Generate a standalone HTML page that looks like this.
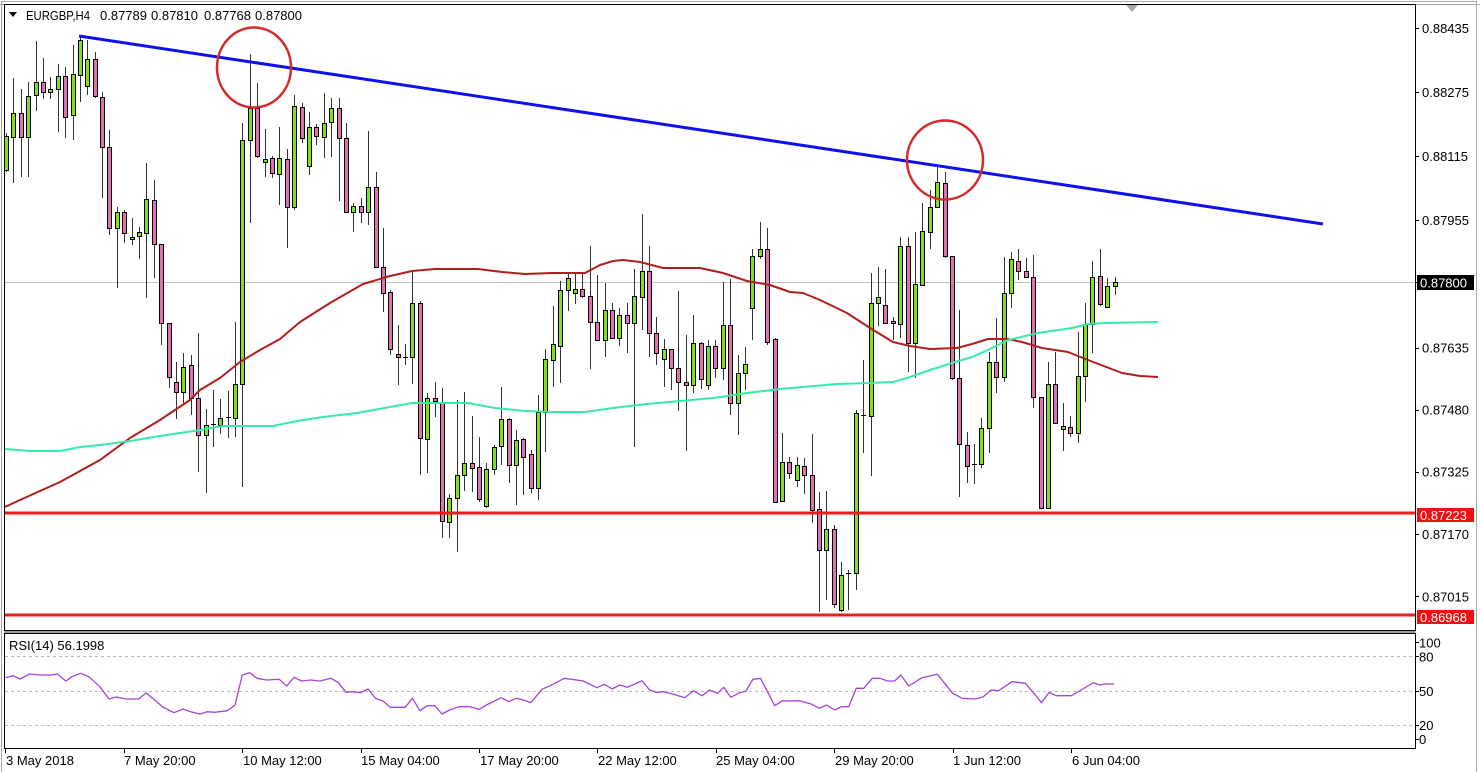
<!DOCTYPE html>
<html><head><meta charset="utf-8"><style>
html,body{margin:0;padding:0;background:#fff;}
svg{display:block;}
text{font-family:"Liberation Sans",sans-serif;font-size:13px;fill:#000;}
.g{fill:#80E01C;stroke:#000;stroke-width:1;}
.p{fill:#E46FB0;stroke:#000;stroke-width:1;}
</style></head><body>
<svg width="1480" height="772" viewBox="0 0 1480 772" xmlns="http://www.w3.org/2000/svg">
<defs><clipPath id="mc"><rect x="5" y="5" width="1410" height="625"/></clipPath></defs>
<rect x="0" y="0" width="1480" height="772" fill="#fff"/>
<path d="M1.5 772V1.5H1476.5V772" fill="none" stroke="#A8A8A8" stroke-width="1"/>
<path d="M0 4.5H1480" stroke="#A8A8A8" stroke-width="1"/>
<path d="M4.5 4.5H1415.5V630.5H4.5Z" fill="none" stroke="#000" stroke-width="1"/>
<rect x="4" y="631" width="1412" height="2" fill="#A0A0A0"/>
<path d="M4.5 633.5H1415.5V748.5H4.5Z" fill="none" stroke="#000" stroke-width="1"/>

<g clip-path="url(#mc)">
<path d="M5 282.5H1415" stroke="#C0C0C0" stroke-width="1"/>
<path stroke="#333" stroke-width="1" fill="none" d="M6.5 133V172 M13.5 78V183 M21.5 89V177 M28.5 82V177 M36.5 41V111 M43.5 58V99 M50.5 77V99 M58.5 64V132 M65.5 67V138 M73.5 45V140 M80.5 35V102 M87.5 40V95 M95.5 52V98 M102.5 92V198 M109.5 130V235 M117.5 207V288 M124.5 210V243 M132.5 218V245 M139.5 227V259 M146.5 163V298 M154.5 180V278 M161.5 244V345 M169.5 323V388 M176.5 362V419 M183.5 353V403 M191.5 355V415 M198.5 333V472 M206.5 409V493 M213.5 390V447 M220.5 399V434 M228.5 391V438 M235.5 322V437 M242.5 123V487 M250.5 54V223 M257.5 83V158 M265.5 129V177 M272.5 156V178 M279.5 127V205 M287.5 149V248 M294.5 95V210 M302.5 103V143 M309.5 112V175 M316.5 124V145 M324.5 93V158 M331.5 98V157 M339.5 98V201 M346.5 123V213 M353.5 203V232 M361.5 198V223 M368.5 131V225 M376.5 172V268 M383.5 228V312 M390.5 290V355 M398.5 325V385 M405.5 344V365 M412.5 272V384 M420.5 301V475 M427.5 393V473 M435.5 382V417 M442.5 388V538 M449.5 494V538 M457.5 400V552 M464.5 392V491 M472.5 416V492 M479.5 437V502 M486.5 463V508 M494.5 445V475 M501.5 387V465 M509.5 418V483 M516.5 430V505 M523.5 438V495 M531.5 450V493 M538.5 395V500 M545.5 349V452 M553.5 306V387 M560.5 281V383 M568.5 273V311 M575.5 273V304 M582.5 273V298 M590.5 246V369 M597.5 275V340 M605.5 283V357 M612.5 303V338 M619.5 308V346 M627.5 303V353 M634.5 269V447 M642.5 214V330 M649.5 246V357 M656.5 317V365 M664.5 339V387 M671.5 349V390 M678.5 291V411 M686.5 335V451 M693.5 315V393 M701.5 342V389 M708.5 340V390 M715.5 340V378 M723.5 282V380 M730.5 279V415 M738.5 355V435 M745.5 347V390 M752.5 249V340 M760.5 222V259 M767.5 228V345 M775.5 338V503 M782.5 433V502 M789.5 457V479 M797.5 457V487 M804.5 458V494 M812.5 434V523 M819.5 492V612 M826.5 491V600 M834.5 525V608 M841.5 562V612 M848.5 570V610 M856.5 410V590 M863.5 360V453 M871.5 273V476 M878.5 267V326 M885.5 269V323 M893.5 317V340 M900.5 237V338 M908.5 237V372 M915.5 232V378 M922.5 203V286 M930.5 190V249 M937.5 167V207 M945.5 172V258 M952.5 256V380 M959.5 310V497 M967.5 432V483 M974.5 444V484 M981.5 418V468 M989.5 352V453 M996.5 318V393 M1004.5 257V382 M1011.5 252V308 M1018.5 249V280 M1026.5 258V277 M1033.5 255V408 M1041.5 397V508 M1048.5 362V508 M1055.5 352V424 M1063.5 403V451 M1070.5 416V437 M1078.5 332V443 M1085.5 303V402 M1092.5 261V353 M1100.5 249V306 M1107.5 278V307 M1115.5 277V295"/>
<path stroke="#000" stroke-width="1" d="M211 424.5H216 M226 417.5H231 M403 357.5H408 M846 573.5H851 M861 415.5H866 M972 464.5H977"/>
<g class="g">
<rect x="4.5" y="136.5" width="4" height="34"/>
<rect x="11.5" y="113.5" width="4" height="24"/>
<rect x="26.5" y="96.5" width="4" height="41"/>
<rect x="34.5" y="82.5" width="4" height="13"/>
<rect x="48.5" y="89.5" width="4" height="3"/>
<rect x="56.5" y="76.5" width="4" height="13"/>
<rect x="71.5" y="74.5" width="4" height="41"/>
<rect x="78.5" y="40.5" width="4" height="35"/>
<rect x="85.5" y="59.5" width="4" height="27"/>
<rect x="115.5" y="212.5" width="4" height="16"/>
<rect x="130.5" y="237.5" width="4" height="2"/>
<rect x="137.5" y="232.5" width="4" height="4"/>
<rect x="144.5" y="199.5" width="4" height="34"/>
<rect x="181.5" y="367.5" width="4" height="25"/>
<rect x="204.5" y="425.5" width="4" height="10"/>
<rect x="218.5" y="418.5" width="4" height="7"/>
<rect x="233.5" y="384.5" width="4" height="34"/>
<rect x="240.5" y="140.5" width="4" height="244"/>
<rect x="248.5" y="108.5" width="4" height="32"/>
<rect x="263.5" y="159.5" width="4" height="3"/>
<rect x="277.5" y="158.5" width="4" height="16"/>
<rect x="292.5" y="106.5" width="4" height="101"/>
<rect x="307.5" y="127.5" width="4" height="39"/>
<rect x="322.5" y="123.5" width="4" height="14"/>
<rect x="329.5" y="108.5" width="4" height="14"/>
<rect x="351.5" y="206.5" width="4" height="6"/>
<rect x="366.5" y="187.5" width="4" height="25"/>
<rect x="410.5" y="303.5" width="4" height="54"/>
<rect x="425.5" y="398.5" width="4" height="41"/>
<rect x="447.5" y="498.5" width="4" height="24"/>
<rect x="455.5" y="475.5" width="4" height="23"/>
<rect x="462.5" y="463.5" width="4" height="12"/>
<rect x="484.5" y="469.5" width="4" height="37"/>
<rect x="492.5" y="447.5" width="4" height="22"/>
<rect x="499.5" y="419.5" width="4" height="27"/>
<rect x="514.5" y="440.5" width="4" height="25"/>
<rect x="536.5" y="412.5" width="4" height="76"/>
<rect x="543.5" y="359.5" width="4" height="53"/>
<rect x="551.5" y="344.5" width="4" height="16"/>
<rect x="558.5" y="290.5" width="4" height="56"/>
<rect x="566.5" y="278.5" width="4" height="12"/>
<rect x="573.5" y="289.5" width="4" height="4"/>
<rect x="603.5" y="310.5" width="4" height="30"/>
<rect x="617.5" y="315.5" width="4" height="23"/>
<rect x="632.5" y="296.5" width="4" height="27"/>
<rect x="640.5" y="271.5" width="4" height="26"/>
<rect x="662.5" y="349.5" width="4" height="10"/>
<rect x="691.5" y="343.5" width="4" height="42"/>
<rect x="706.5" y="346.5" width="4" height="39"/>
<rect x="721.5" y="325.5" width="4" height="43"/>
<rect x="736.5" y="373.5" width="4" height="30"/>
<rect x="743.5" y="364.5" width="4" height="9"/>
<rect x="750.5" y="256.5" width="4" height="52"/>
<rect x="758.5" y="249.5" width="4" height="7"/>
<rect x="780.5" y="462.5" width="4" height="39"/>
<rect x="795.5" y="465.5" width="4" height="15"/>
<rect x="824.5" y="529.5" width="4" height="21"/>
<rect x="839.5" y="575.5" width="4" height="35"/>
<rect x="854.5" y="413.5" width="4" height="160"/>
<rect x="869.5" y="303.5" width="4" height="113"/>
<rect x="876.5" y="297.5" width="4" height="6"/>
<rect x="898.5" y="246.5" width="4" height="78"/>
<rect x="913.5" y="284.5" width="4" height="59"/>
<rect x="920.5" y="231.5" width="4" height="54"/>
<rect x="928.5" y="207.5" width="4" height="25"/>
<rect x="935.5" y="182.5" width="4" height="25"/>
<rect x="979.5" y="428.5" width="4" height="36"/>
<rect x="987.5" y="362.5" width="4" height="66"/>
<rect x="1002.5" y="293.5" width="4" height="84"/>
<rect x="1009.5" y="259.5" width="4" height="34"/>
<rect x="1046.5" y="384.5" width="4" height="124"/>
<rect x="1061.5" y="426.5" width="4" height="3"/>
<rect x="1076.5" y="376.5" width="4" height="57"/>
<rect x="1083.5" y="324.5" width="4" height="52"/>
<rect x="1090.5" y="277.5" width="4" height="47"/>
<rect x="1105.5" y="286.5" width="4" height="21"/>
<rect x="1113.5" y="282.5" width="4" height="4"/>
</g>
<g class="p">
<rect x="19.5" y="113.5" width="4" height="24"/>
<rect x="41.5" y="82.5" width="4" height="10"/>
<rect x="63.5" y="76.5" width="4" height="41"/>
<rect x="93.5" y="59.5" width="4" height="37"/>
<rect x="100.5" y="97.5" width="4" height="50"/>
<rect x="107.5" y="147.5" width="4" height="81"/>
<rect x="122.5" y="212.5" width="4" height="21"/>
<rect x="152.5" y="200.5" width="4" height="44"/>
<rect x="159.5" y="244.5" width="4" height="79"/>
<rect x="167.5" y="323.5" width="4" height="54"/>
<rect x="174.5" y="382.5" width="4" height="10"/>
<rect x="189.5" y="365.5" width="4" height="33"/>
<rect x="196.5" y="398.5" width="4" height="37"/>
<rect x="255.5" y="108.5" width="4" height="48"/>
<rect x="270.5" y="158.5" width="4" height="15"/>
<rect x="285.5" y="159.5" width="4" height="48"/>
<rect x="300.5" y="107.5" width="4" height="31"/>
<rect x="314.5" y="127.5" width="4" height="9"/>
<rect x="337.5" y="108.5" width="4" height="30"/>
<rect x="344.5" y="138.5" width="4" height="74"/>
<rect x="359.5" y="206.5" width="4" height="6"/>
<rect x="374.5" y="187.5" width="4" height="80"/>
<rect x="381.5" y="267.5" width="4" height="26"/>
<rect x="388.5" y="292.5" width="4" height="57"/>
<rect x="396.5" y="354.5" width="4" height="3"/>
<rect x="418.5" y="303.5" width="4" height="135"/>
<rect x="433.5" y="398.5" width="4" height="3"/>
<rect x="440.5" y="402.5" width="4" height="119"/>
<rect x="470.5" y="463.5" width="4" height="5"/>
<rect x="477.5" y="467.5" width="4" height="32"/>
<rect x="507.5" y="419.5" width="4" height="46"/>
<rect x="521.5" y="439.5" width="4" height="18"/>
<rect x="529.5" y="454.5" width="4" height="34"/>
<rect x="580.5" y="289.5" width="4" height="7"/>
<rect x="588.5" y="296.5" width="4" height="26"/>
<rect x="595.5" y="322.5" width="4" height="18"/>
<rect x="610.5" y="310.5" width="4" height="28"/>
<rect x="625.5" y="315.5" width="4" height="8"/>
<rect x="647.5" y="271.5" width="4" height="62"/>
<rect x="654.5" y="333.5" width="4" height="20"/>
<rect x="669.5" y="349.5" width="4" height="19"/>
<rect x="676.5" y="368.5" width="4" height="14"/>
<rect x="684.5" y="382.5" width="4" height="3"/>
<rect x="699.5" y="343.5" width="4" height="36"/>
<rect x="713.5" y="346.5" width="4" height="22"/>
<rect x="728.5" y="325.5" width="4" height="78"/>
<rect x="765.5" y="249.5" width="4" height="93"/>
<rect x="773.5" y="339.5" width="4" height="163"/>
<rect x="787.5" y="462.5" width="4" height="11"/>
<rect x="802.5" y="466.5" width="4" height="9"/>
<rect x="810.5" y="475.5" width="4" height="35"/>
<rect x="817.5" y="509.5" width="4" height="41"/>
<rect x="832.5" y="529.5" width="4" height="75"/>
<rect x="883.5" y="305.5" width="4" height="18"/>
<rect x="891.5" y="321.5" width="4" height="2"/>
<rect x="906.5" y="246.5" width="4" height="97"/>
<rect x="943.5" y="183.5" width="4" height="73"/>
<rect x="950.5" y="256.5" width="4" height="122"/>
<rect x="957.5" y="378.5" width="4" height="66"/>
<rect x="965.5" y="445.5" width="4" height="21"/>
<rect x="994.5" y="362.5" width="4" height="15"/>
<rect x="1016.5" y="261.5" width="4" height="10"/>
<rect x="1024.5" y="271.5" width="4" height="6"/>
<rect x="1031.5" y="277.5" width="4" height="120"/>
<rect x="1039.5" y="397.5" width="4" height="111"/>
<rect x="1053.5" y="384.5" width="4" height="39"/>
<rect x="1068.5" y="427.5" width="4" height="6"/>
<rect x="1098.5" y="276.5" width="4" height="28"/>
</g>

<polyline fill="none" stroke="#B01E1E" stroke-width="2" stroke-linejoin="round" points="5,507 20,500 60,482 100,460 130,438 160,420 190,400 200,390 220,378 240,362 260,350 280,339 300,322 330,303 363,284 390,276 412,271 435,269 478,269 502,272 525,274 552,273 585,273 600,265 613,261 623,260 640,262 663,268 700,268 723,273 747,281 770,285 790,292 803,293 820,300 847,313 870,328 893,342 910,346 930,349 957,348 972,344 988,339 1008,339 1022,342 1042,348 1068,352 1088,360 1122,373 1140,376 1158,377"/>
<polyline fill="none" stroke="#38EBA6" stroke-width="2" stroke-linejoin="round" points="5,449 30,451 60,451 80,447 100,445 130,441 160,436 200,430 223,426 273,426 297,421 323,417 357,413 390,407 412,403 468,403 495,408 525,411 552,412 585,412 613,408 647,404 680,401 713,398 747,393 780,389 803,387 837,384 870,383 893,382 910,377 930,370 955,362 972,357 988,350 1008,340 1038,333 1072,328 1088,324 1105,323 1158,322"/>

<line x1="79" y1="36" x2="1323" y2="224" stroke="#1010EE" stroke-width="3"/>
<path d="M5 513H1415 M5 615H1415" stroke="#EC1C1C" stroke-width="3"/>
<ellipse cx="254" cy="67.5" rx="37" ry="40" fill="none" stroke="#D42A2A" stroke-width="2.5"/>
<ellipse cx="945" cy="160" rx="38" ry="39.5" fill="none" stroke="#D42A2A" stroke-width="2.5"/>
</g>

<polygon points="1126,5 1138,5 1132,12" fill="#A8A8A8"/>

<polygon points="9,12 17,12 13,17" fill="#000"/>
<text x="26" y="20" font-size="12" textLength="64" lengthAdjust="spacingAndGlyphs">EURGBP,H4</text>
<text x="100" y="20">0.87789</text>
<text x="151" y="20">0.87810</text>
<text x="204" y="20">0.87768</text>
<text x="255" y="20">0.87800</text>

<path stroke="#000" stroke-width="1" d="M1415 28.5H1419 M1415 92.5H1419 M1415 156.5H1419 M1415 220.5H1419 M1415 282.5H1419 M1415 348.5H1419 M1415 410.5H1419 M1415 472.5H1419 M1415 534.5H1419 M1415 596.5H1419 M1415 642.5H1419 M1415 656.5H1419 M1415 691.5H1419 M1415 725.5H1419 M1415 739.5H1419"/>
<text x="1422" y="33">0.88435</text>
<text x="1422" y="97">0.88275</text>
<text x="1422" y="161">0.88115</text>
<text x="1422" y="225">0.87955</text>
<text x="1422" y="352.5">0.87635</text>
<text x="1422" y="414.5">0.87480</text>
<text x="1422" y="476.5">0.87325</text>
<text x="1422" y="539">0.87170</text>
<text x="1422" y="601.5">0.87015</text>
<rect x="1417" y="275" width="57" height="15" fill="#000"/>
<text x="1420" y="287.5" style="fill:#fff">0.87800</text>
<rect x="1417" y="508" width="57" height="14" fill="#EE1111"/>
<text x="1420" y="520" style="fill:#fff">0.87223</text>
<rect x="1417" y="610" width="57" height="14" fill="#EE1111"/>
<text x="1420" y="622" style="fill:#fff">0.86968</text>

<path d="M5 656.5H1415 M5 691.5H1415 M5 725.5H1415" stroke="#BDBDBD" stroke-width="1" stroke-dasharray="3,3"/>
<text x="9" y="650">RSI(14) 56.1998</text>
<polyline fill="none" stroke="#A445D8" stroke-width="1.3" stroke-linejoin="round" points="5.5,677.7 13,675.7 20,679 29.6,674 40.7,675 51.8,675 57.3,674 65.9,681 72,676.7 80.6,673.3 88.8,676.7 99.9,686.7 109,699 116.5,697 125.8,699 138.7,699 146,693 153.5,699 162.8,707 173.9,712.7 183,709 190.5,711.7 199.8,714 207.2,711.7 214.6,712.3 227.5,710.7 235,705 242.3,675 249.7,672.7 257.1,678.3 266.4,680 279.3,679.3 286.7,686 294.1,677.3 301.5,681 310.8,680 320,681 331.1,678.3 338.5,682.7 345.9,692.3 351.5,691.7 360.7,692.7 368.1,689 375.5,698.3 382.9,701 390.3,707.3 405.1,707.3 412.5,698.3 419.9,710.7 427.3,705.7 434.7,705.7 442.1,714 449.5,710 458.8,706.7 469.8,706.7 479.1,709.3 488.3,704 501.3,697.7 508.7,701.7 516.1,698.3 523.5,700 530.9,702.7 542,689.3 553.1,684.3 564.2,678.3 571.6,679.3 583.4,681 596.8,687.7 604.4,684.3 612.1,689 619.8,685 627.4,687.3 642,680.7 649.6,690 656.1,692.3 663.8,691.7 673.3,694.3 684.8,697.7 693.2,690.7 702,695.7 709.7,690 717.3,693.3 723.8,687.3 730.7,697.3 738.4,693.3 746,691 752.9,679.3 760.6,678.3 774.7,705.7 782.4,700.7 790,701 799.6,700.7 811.1,704 819.5,708.3 826.4,705 834.8,710 841.7,706.7 848.6,706.7 856.3,688.3 863.9,688.3 872.3,678.3 880,678.3 887.6,681 894.5,681 901,675 908.7,686 922.1,677.7 937.4,674.3 952.7,693.3 962.3,698.3 975.7,699 983.3,696.7 991,690 998.6,690.7 1012,681.7 1025.4,683.3 1033.1,692.3 1041.5,702.7 1049.2,692.3 1056,695.7 1071.3,695.7 1082.8,689 1093.5,682.7 1100,685 1105.8,684 1114.2,684"/>
<text x="1419" y="647.5">100</text>
<text x="1419" y="661.5">80</text>
<text x="1419" y="696">50</text>
<text x="1419" y="730">20</text>
<text x="1419" y="744">0</text>

<path stroke="#000" stroke-width="1" d="M5.5 748V753 M124.5 748V753 M242.5 748V753 M361.5 748V753 M479.5 748V753 M597.5 748V753 M716.5 748V753 M834.5 748V753 M953.5 748V753 M1071.5 748V753"/>
<text x="6" y="765">3 May 2018</text>
<text x="124" y="765">7 May 20:00</text>
<text x="243" y="765">10 May 12:00</text>
<text x="361" y="765">15 May 04:00</text>
<text x="480" y="765">17 May 20:00</text>
<text x="598" y="765">22 May 12:00</text>
<text x="716" y="765">25 May 04:00</text>
<text x="835" y="765">29 May 20:00</text>
<text x="953" y="765">1 Jun 12:00</text>
<text x="1072" y="765">6 Jun 04:00</text>
</svg>
</body></html>
